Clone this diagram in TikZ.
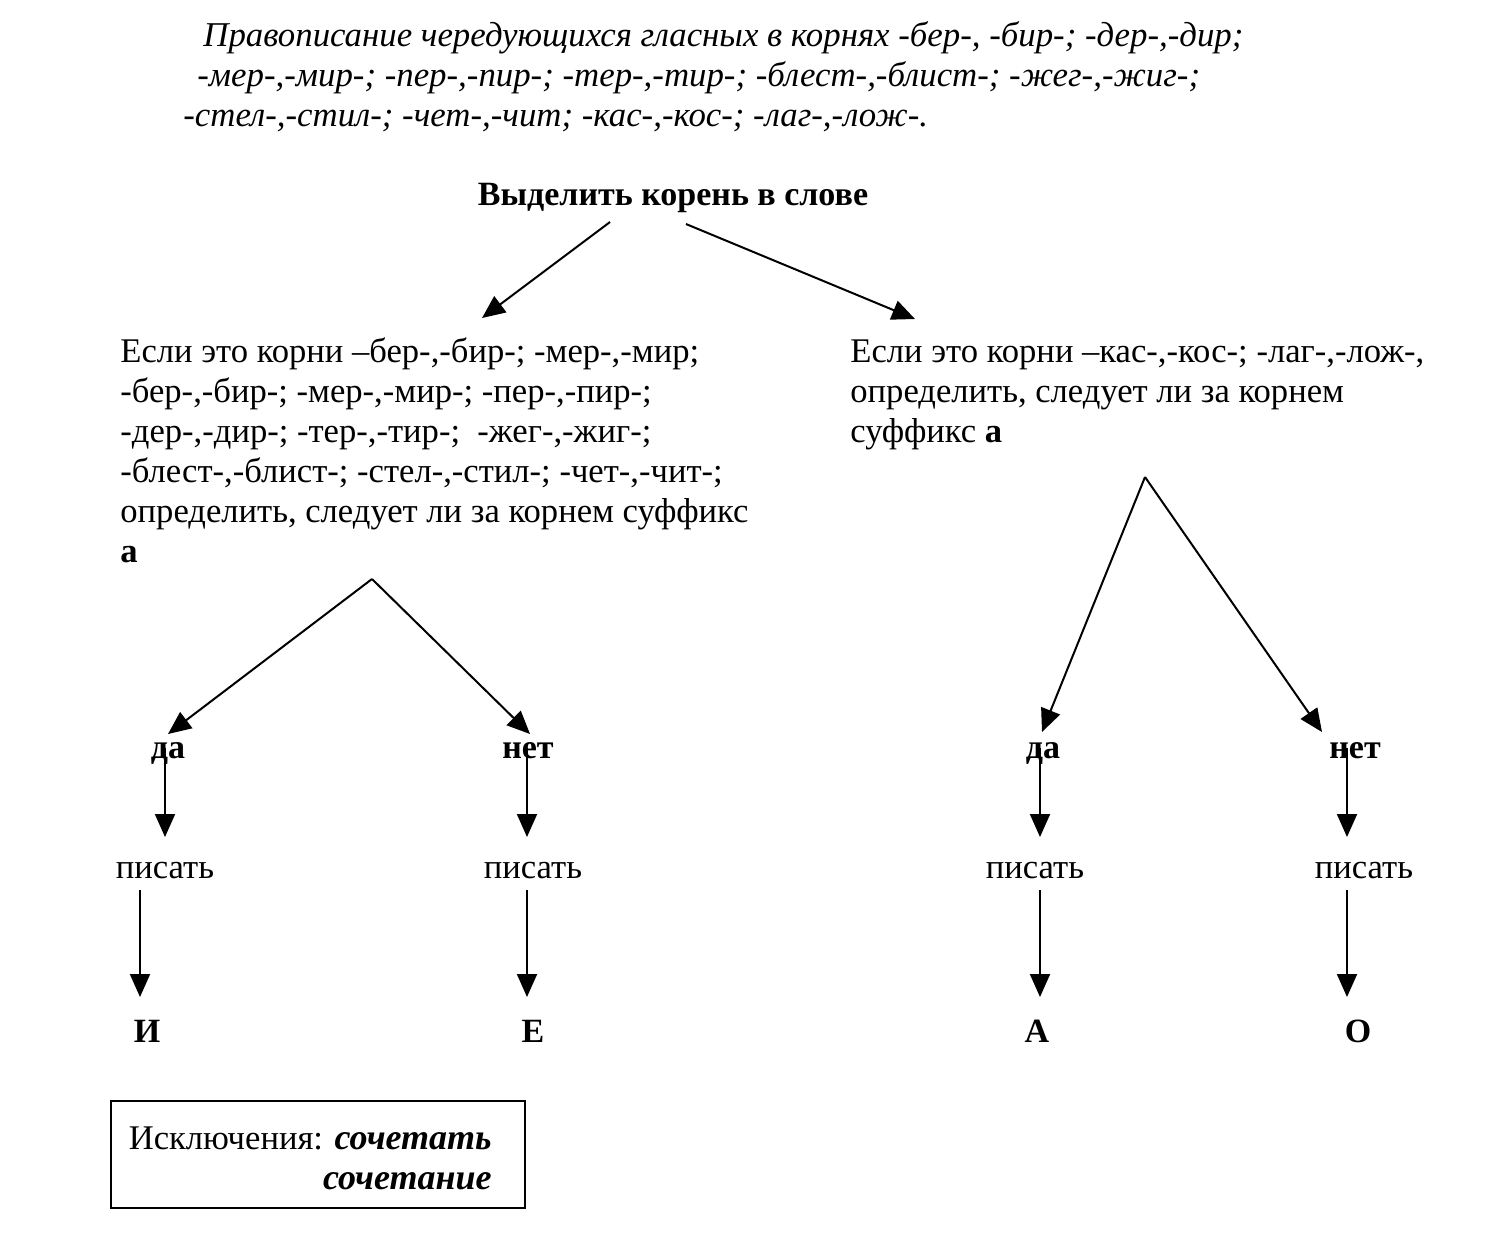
\documentclass[tikz,border=0pt]{standalone}
\usepackage{fontspec}
\setmainfont{Liberation Serif}
\usetikzlibrary{arrows.meta}
\begin{document}
\begin{tikzpicture}[x=0.5pt,y=-0.5pt,
  arr/.style={-{Triangle[length=11.5pt,width=10pt]}, line width=1pt},
  body/.style={font=\fontsize{17.3}{20}\selectfont, inner sep=0pt, anchor=base west, align=left},
  hdr/.style={font=\fontsize{17.4}{20}\selectfont\itshape, inner sep=0pt, anchor=base west},
  lbl/.style={font=\fontsize{17}{20}\selectfont\bfseries, inner sep=0pt, anchor=base},
  word/.style={font=\fontsize{17.3}{20}\selectfont, inner sep=0pt, anchor=base},
]
\useasboundingbox (0,0) rectangle (1499,1255);
\fill[white] (0,0) rectangle (1499,1255);

% header
\node[hdr] (h1) at (203,46) {Правописание чередующихся гласных в корнях -бер-, -бир-; -дер-,-дир;};
\node[hdr] (h2) at (197,86) {-мер-,-мир-; -пер-,-пир-; -тер-,-тир-; -блест-,-блист-; -жег-,-жиг-;};
\node[hdr] (h3) at (183,126) {-стел-,-стил-; -чет-,-чит; -кас-,-кос-; -лаг-,-лож-.};

% title
\node[lbl] (title) at (673,205) {Выделить корень в слове};

% blocks (base anchor = last line baseline)
\node[body] (left) at (120,562) {Если это корни –бер-,-бир-; -мер-,-мир;\\
-бер-,-бир-; -мер-,-мир-; -пер-,-пир-;\\
-дер-,-дир-; -тер-,-тир-;\ \ -жег-,-жиг-;\\
-блест-,-блист-; -стел-,-стил-; -чет-,-чит-;\\
определить, следует ли за корнем суффикс\\
\textbf{а}};
\node[body] (right) at (850,442) {Если это корни –кас-,-кос-; -лаг-,-лож-,\\
определить, следует ли за корнем\\
суффикс \textbf{а}};

% title arrows
\coordinate (t1) at (610,222);
\coordinate (t2) at (686,224);
\coordinate (l0) at (482,318);
\coordinate (r0) at (915,319);
\draw[arr] (t1) -- (l0);
\draw[arr] (t2) -- (r0);

% left tree
\coordinate (la) at (372,579);
\coordinate (la1) at (168,734);
\coordinate (la2) at (530,734);
\node[lbl] (da1) at (168,758) {да};
\node[lbl] (net1) at (528,758) {нет};
\draw[arr] (la) -- (la1);
\draw[arr] (la) -- (la2);
% right tree
\coordinate (ra) at (1145,477);
\coordinate (ra1) at (1042,732);
\coordinate (ra2) at (1322,732);
\node[lbl] (da2) at (1043,758) {да};
\node[lbl] (net2) at (1355,758) {нет};
\draw[arr] (ra) -- (ra1);
\draw[arr] (ra) -- (ra2);

% писать
\node[word] (p1) at (165,878) {писать};
\node[word] (p2) at (533,878) {писать};
\node[word] (p3) at (1035,878) {писать};
\node[word] (p4) at (1364,878) {писать};

\coordinate (a1s) at (165,748); \coordinate (a1e) at (165,837);
\coordinate (a2s) at (527,748); \coordinate (a2e) at (527,837);
\coordinate (a3s) at (1040,748); \coordinate (a3e) at (1040,837);
\coordinate (a4s) at (1347,748); \coordinate (a4e) at (1347,837);
\draw[arr] (a1s) -- (a1e);
\draw[arr] (a2s) -- (a2e);
\draw[arr] (a3s) -- (a3e);
\draw[arr] (a4s) -- (a4e);

% letters
\node[lbl] (I) at (147,1042) {И};
\node[lbl] (E) at (533,1042) {Е};
\node[lbl] (A) at (1037,1042) {А};
\node[lbl] (O) at (1358,1042) {О};

\coordinate (b1s) at (140,890); \coordinate (b1e) at (140,997);
\coordinate (b2s) at (527,890); \coordinate (b2e) at (527,997);
\coordinate (b3s) at (1040,890); \coordinate (b3e) at (1040,997);
\coordinate (b4s) at (1347,890); \coordinate (b4e) at (1347,997);
\draw[arr] (b1s) -- (b1e);
\draw[arr] (b2s) -- (b2e);
\draw[arr] (b3s) -- (b3e);
\draw[arr] (b4s) -- (b4e);

% exceptions box
\draw[line width=1pt] (111,1101) rectangle (525,1208);
\node[body, anchor=base east, align=right] (exc) at (492,1189) {Исключения: \textbf{\textit{\fontsize{18}{20}\selectfont сочетать}}\\ \textbf{\textit{\fontsize{18}{20}\selectfont сочетание}}};
\end{tikzpicture}
\end{document}
